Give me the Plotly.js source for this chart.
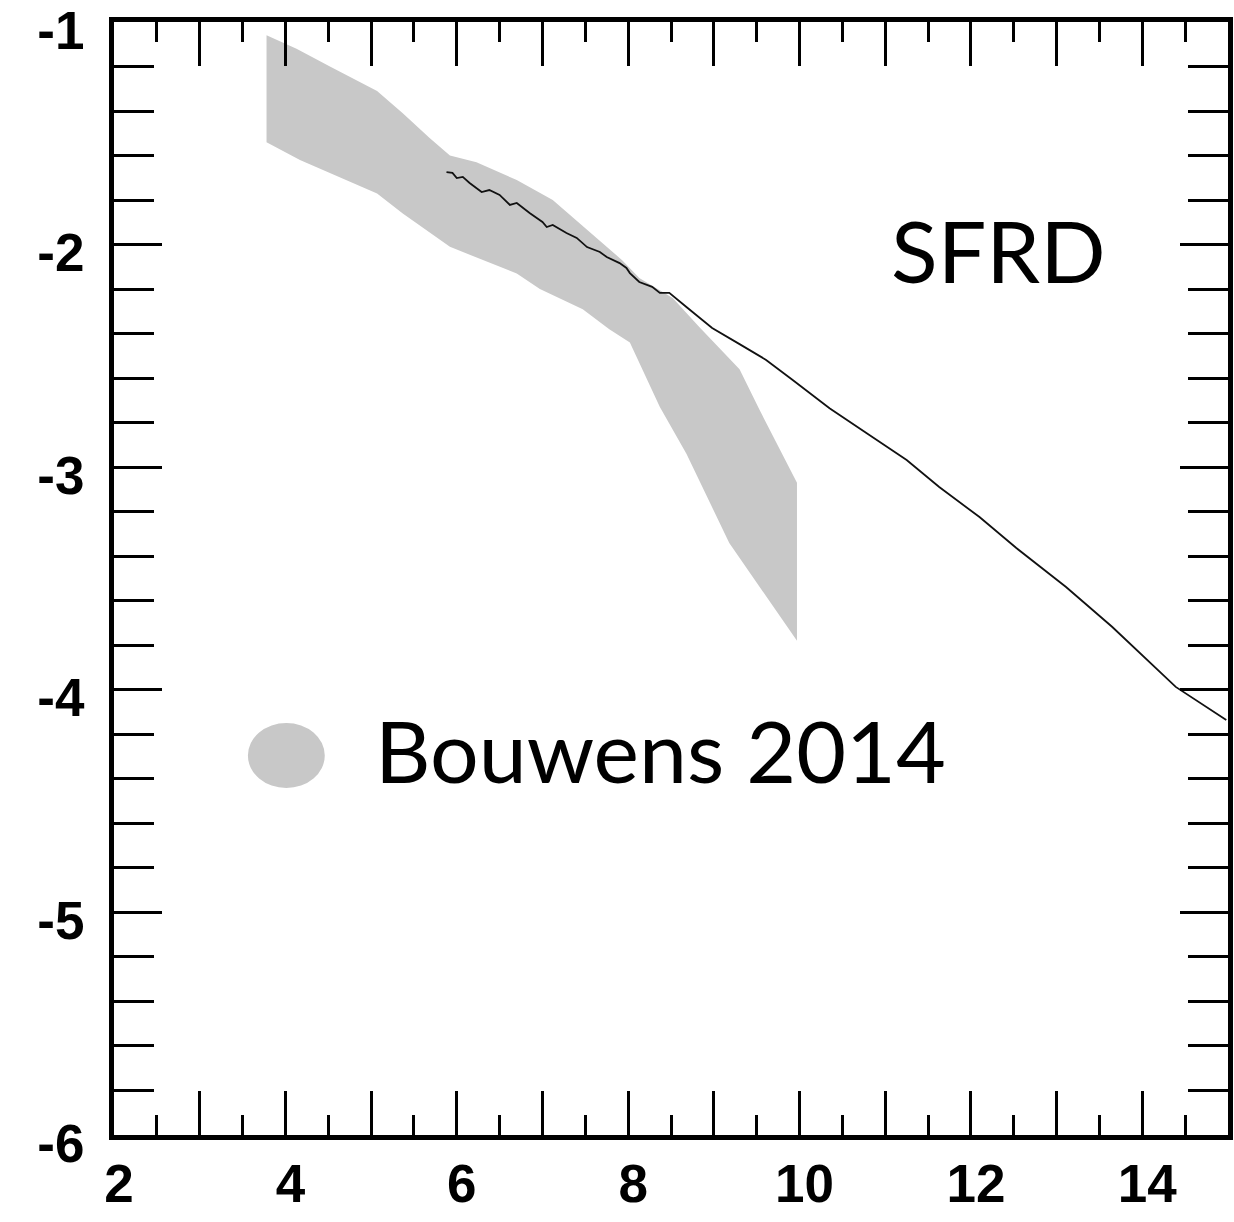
<!DOCTYPE html>
<html>
<head>
<meta charset="utf-8">
<script src="https://cdn.plot.ly/plotly-3.0.1.min.js"></script>
<style>html,body{margin:0;padding:0;background:#fff;}#chart{width:1234px;height:1222px;}</style>
</head>
<body>
<div id="chart"></div>
<script>
// Bouwens 2014 band: upper edge (left to right), then lower edge (right to left)
const bandUpperX = [3.78, 4.13, 4.52, 5.07, 5.37, 5.68, 5.92, 6.23, 6.70, 7.12, 7.93, 8.13, 8.52, 8.83, 9.30, 9.53, 9.97];
const bandUpperY = [-1.06, -1.12, -1.20, -1.31, -1.41, -1.52, -1.60, -1.63, -1.71, -1.80, -2.07, -2.15, -2.24, -2.37, -2.56, -2.74, -3.07];
const bandLowerX = [9.97, 9.18, 8.68, 8.37, 8.02, 7.78, 7.47, 6.97, 6.70, 5.92, 5.37, 5.07, 4.17, 3.78];
const bandLowerY = [-3.78, -3.34, -2.94, -2.73, -2.44, -2.38, -2.29, -2.20, -2.13, -2.01, -1.86, -1.77, -1.62, -1.54];

// SFRD simulation curve
const sfrdX = [5.88, 5.95, 6.00, 6.07, 6.15, 6.29, 6.38, 6.50, 6.62, 6.70, 6.85, 7.00, 7.05, 7.12, 7.28, 7.40, 7.52, 7.67, 7.75, 7.90, 7.98, 8.02, 8.13, 8.28, 8.37, 8.48, 8.68, 8.98, 9.30, 9.61, 9.92, 10.35, 10.78, 11.25, 11.63, 12.10, 12.53, 13.11, 13.65, 14.39, 14.98];
const sfrdY = [-1.674, -1.678, -1.701, -1.696, -1.723, -1.764, -1.755, -1.777, -1.822, -1.813, -1.858, -1.898, -1.921, -1.912, -1.948, -1.970, -2.011, -2.033, -2.056, -2.083, -2.105, -2.128, -2.168, -2.190, -2.217, -2.217, -2.280, -2.375, -2.447, -2.518, -2.608, -2.735, -2.846, -2.968, -3.089, -3.224, -3.363, -3.538, -3.718, -3.987, -4.136];

// tick labels
const xTickVals = [2, 3, 4, 5, 6, 7, 8, 9, 10, 11, 12, 13, 14, 15];
const xTickText = ['2', '', '4', '', '6', '', '8', '', '10', '', '12', '', '14', ''];
const yTickVals = [-6, -5, -4, -3, -2, -1];
const yTickText = ['-6', '-5', '-4', '-3', '-2', '-1'];

const legendLabel = 'Bouwens 2014';
const panelLabel = 'SFRD';

const bandX = bandUpperX.concat(bandLowerX);
const bandY = bandUpperY.concat(bandLowerY);

const traces = [
  {
    x: bandX, y: bandY, type: 'scatter', mode: 'lines',
    fill: 'toself', fillcolor: '#c8c8c8',
    line: {width: 0, color: '#c8c8c8'}, hoverinfo: 'skip', showlegend: false
  },
  {
    x: sfrdX, y: sfrdY, type: 'scatter', mode: 'lines',
    line: {color: '#111111', width: 1.8}, showlegend: false
  }
];

const tickFont = {family: '"Liberation Sans", Arial, sans-serif', size: 53, color: '#000', weight: 700};
const labelFont = {family: 'Lato, "Open Sans", sans-serif', size: 86, color: '#000'};

const layout = {
  width: 1234, height: 1222,
  margin: {l: 114, r: 6, t: 22, b: 87, pad: 0},
  paper_bgcolor: '#fff', plot_bgcolor: '#fff',
  showlegend: false,
  xaxis: {
    range: [2, 15], showgrid: false, zeroline: false,
    showline: true, linewidth: 5, linecolor: '#000', mirror: 'allticks',
    ticks: 'inside', tickmode: 'array', tickvals: xTickVals, ticktext: xTickText,
    ticklen: 44, tickwidth: 3, tickcolor: '#000',
    minor: {ticks: 'inside', tick0: 2, dtick: 0.5, ticklen: 20, tickwidth: 3, tickcolor: '#000', showgrid: false},
    tickfont: tickFont, ticklabelstandoff: -2, ticklabelshift: 5, ticklabeloverflow: 'allow'
  },
  yaxis: {
    range: [-6, -1], showgrid: false, zeroline: false,
    showline: true, linewidth: 5, linecolor: '#000', mirror: 'allticks',
    ticks: 'inside', tickmode: 'array', tickvals: yTickVals, ticktext: yTickText,
    ticklen: 48, tickwidth: 3, tickcolor: '#000',
    minor: {ticks: 'inside', tick0: -6, dtick: 0.2, ticklen: 40, tickwidth: 3, tickcolor: '#000', showgrid: false},
    tickfont: tickFont, ticklabelstandoff: 14, ticklabelshift: 8, ticklabeloverflow: 'allow'
  },
  shapes: [
    {type: 'circle', xref: 'paper', yref: 'paper', x0: 0.1202, x1: 0.1892, y0: 0.3118, y1: 0.3702,
     fillcolor: '#c8c8c8', line: {width: 0}}
  ],
  annotations: [
    {text: legendLabel, xref: 'paper', yref: 'paper', x: 0.2323, y: 0.3468,
     xanchor: 'left', yanchor: 'middle', showarrow: false, font: labelFont},
    {text: panelLabel, xref: 'paper', yref: 'paper', x: 0.6960, y: 0.7960,
     xanchor: 'left', yanchor: 'middle', showarrow: false, font: labelFont}
  ]
};

Plotly.newPlot('chart', traces, layout, {displayModeBar: false, staticPlot: true});
</script>
</body>
</html>
